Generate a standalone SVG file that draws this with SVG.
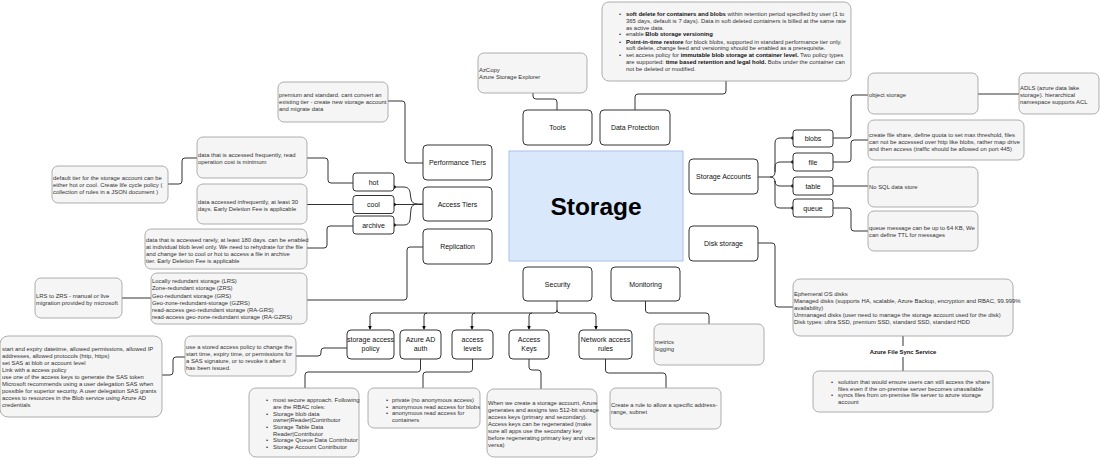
<svg xmlns="http://www.w3.org/2000/svg" width="1100" height="458" viewBox="0 0 1100 458">
<style>
.n{fill:#fff;stroke:#333;stroke-width:1}
.note{fill:#f5f5f5;stroke:#999;stroke-width:0.8}
.lbl{font-family:"Liberation Sans",Arial,sans-serif;font-size:7px;fill:#111;text-anchor:middle}
.t{font-family:"Liberation Sans",Arial,sans-serif;font-size:5.9px;fill:#333}
.b{font-weight:bold;fill:#111}
.c{fill:none;stroke:#333;stroke-width:1}
.dot{fill:#000}
</style>
<defs>
<marker id="ar" viewBox="0 0 6 6" refX="5" refY="3" markerWidth="4" markerHeight="4" orient="auto"><path d="M0,0 L6,3 L0,6 Z" fill="#000"/></marker>
</defs>
<rect width="1100" height="458" fill="#fff"/>

<g id="connectors">
<path class="c" d="M533,93 V96 Q533,99 536,99 H554 Q557,99 557,102 V110"/>
<path class="c" d="M726,81 V91 Q726,94 723,94 H638 Q635,94 635,97 V110"/>
<path class="c" d="M388,101 H402 Q405,101 405,104 V160 Q405,163 408,163 H423"/>
<path class="c" d="M168,184 H179 Q182,184 182,181 V161 Q182,158 185,158 H197"/>
<path class="c" d="M307,158 H325 Q328,158 328,161 V180 Q328,183 331,183 H353"/>
<path class="c" d="M307,204.5 H353"/>
<path class="c" d="M307,248 H324 Q327,248 327,245 V229 Q327,226 330,226 H353"/>
<path class="c" d="M394,187 H404 Q409,187 410,192 L411,199 Q412,204 417,204 H423"/>
<path class="c" d="M394,204.5 H423"/>
<path class="c" d="M394,225 H404 Q409,225 410,220 L411,209 Q412,204 417,204"/>
<circle class="dot" cx="394" cy="187" r="1.8"/>
<circle class="dot" cx="394" cy="204.5" r="1.8"/>
<circle class="dot" cx="394" cy="225" r="1.8"/>
<path class="c" d="M122,298 H151"/>
<path class="c" d="M307,300 H404 Q407,300 407,297 V250 Q407,247 410,247 H423"/>
<path class="c" d="M162,375 H170 Q173,375 173,372 V360 Q173,357 176,357 H185"/>
<path class="c" d="M296,356 H318 Q321,356 321,353 V351 Q321,348 324,348 H347"/>
<path class="c" d="M557,301 V310 Q557,313 554,313 H373 Q370,313 370,316 V329" marker-end="url(#ar)"/>
<path class="c" d="M427,313 Q424,313 424,316 V329" marker-end="url(#ar)"/>
<path class="c" d="M475,313 Q472,313 472,316 V329" marker-end="url(#ar)"/>
<path class="c" d="M532,313 Q529,313 529,316 V329" marker-end="url(#ar)"/>
<path class="c" d="M557,310 Q557,313 560,313 H593 Q596,313 596,316 V329" marker-end="url(#ar)"/>
<path class="c" d="M420.5,359 V369 Q420.5,372 417.5,372 H308 Q305,372 305,375 V388"/>
<path class="c" d="M472.5,359 V369 Q472.5,372 469.5,372 H426 Q423,372 423,375 V388"/>
<path class="c" d="M529,359 V367 Q529,370 532,370 H538 Q541,370 541,373 V389"/>
<path class="c" d="M605.5,359 V370 Q605.5,373 608.5,373 H663 Q666,373 666,376 V388"/>
<path class="c" d="M645.5,301 V310 Q645.5,313 648.5,313 H706 Q709,313 709,316 V324"/>
<path class="c" d="M758,177 H770 Q775,177 775,172 V143 Q775,138 780,138 H793"/>
<path class="c" d="M775,172 V167 Q775,162 780,162 H793"/>
<path class="c" d="M770,177 Q775,177 775,182 V181 Q775,186 780,186 H793"/>
<path class="c" d="M775,182 V203 Q775,208 780,208 H793"/>
<circle class="dot" cx="793" cy="138" r="1.8"/>
<circle class="dot" cx="793" cy="162" r="1.8"/>
<circle class="dot" cx="793" cy="186" r="1.8"/>
<circle class="dot" cx="793" cy="208" r="1.8"/>
<path class="c" d="M833,138 H848 Q851,138 851,135 V98 Q851,95 854,95 H868"/>
<path class="c" d="M978,94 H1019"/>
<path class="c" d="M833,162 H848 Q851,162 851,159 V143 Q851,140 854,140 H868"/>
<path class="c" d="M833,186 H868"/>
<path class="c" d="M833,208 H848 Q851,208 851,211 V228 Q851,231 854,231 H868"/>
<path class="c" d="M758,243 H772 Q775,243 775,246 V304 Q775,307 778,307 H793"/>
<path class="c" d="M903,336 V346 M903,357 V371"/>
</g>

<g id="storage">
<rect x="509" y="151" width="174" height="110" fill="#dae8fc" stroke="#a9c4eb" stroke-width="1"/>
<text x="596" y="215" font-family="Liberation Sans,Arial,sans-serif" font-size="24.5" font-weight="bold" text-anchor="middle" fill="#000">Storage</text>
</g>

<g id="tools"><rect class="n" x="523" y="110" width="69" height="35" rx="4"/><text class="lbl" x="557.5" y="130">Tools</text></g>
<g id="data-protection"><rect class="n" x="600" y="110" width="70" height="35" rx="4"/><text class="lbl" x="635" y="130">Data Protection</text></g>
<g id="performance-tiers"><rect class="n" x="423" y="145" width="69" height="35" rx="4"/><text class="lbl" x="457.5" y="165">Performance Tiers</text></g>
<g id="access-tiers"><rect class="n" x="423" y="187" width="69" height="34" rx="4"/><text class="lbl" x="457.5" y="206.5">Access Tiers</text></g>
<g id="replication"><rect class="n" x="423" y="229" width="69" height="35" rx="4"/><text class="lbl" x="457.5" y="249">Replication</text></g>
<g id="hot"><rect class="n" x="353" y="173" width="41" height="18" rx="3"/><text class="lbl" x="373.5" y="184.5">hot</text></g>
<g id="cool"><rect class="n" x="353" y="195.5" width="41" height="18" rx="3"/><text class="lbl" x="373.5" y="207">cool</text></g>
<g id="archive"><rect class="n" x="353" y="216" width="41" height="18" rx="3"/><text class="lbl" x="373.5" y="227.5">archive</text></g>
<g id="security"><rect class="n" x="523" y="267" width="69" height="34" rx="4"/><text class="lbl" x="557.5" y="286.5">Security</text></g>
<g id="monitoring"><rect class="n" x="611" y="267" width="69" height="34" rx="4"/><text class="lbl" x="645.5" y="286.5">Monitoring</text></g>
<g id="storage-accounts"><rect class="n" x="689" y="159" width="69" height="35" rx="4"/><text class="lbl" x="723.5" y="179">Storage Accounts</text></g>
<g id="disk-storage"><rect class="n" x="689" y="226" width="69" height="35" rx="4"/><text class="lbl" x="723.5" y="246">Disk storage</text></g>
<g id="blobs"><rect class="n" x="793" y="130" width="40" height="17" rx="3"/><text class="lbl" x="813" y="141">blobs</text></g>
<g id="file"><rect class="n" x="793" y="153" width="40" height="18" rx="3"/><text class="lbl" x="813" y="164.5">file</text></g>
<g id="table"><rect class="n" x="793" y="177" width="40" height="18" rx="3"/><text class="lbl" x="813" y="188.5">table</text></g>
<g id="queue"><rect class="n" x="793" y="199" width="40" height="18" rx="3"/><text class="lbl" x="813" y="210.5">queue</text></g>
<g id="storage-access-policy"><rect class="n" x="347" y="330" width="47" height="29" rx="4"/><text class="lbl" x="370.5" y="342">storage access</text><text class="lbl" x="370.5" y="351">policy</text></g>
<g id="azure-ad-auth"><rect class="n" x="400" y="330" width="41" height="29" rx="4"/><text class="lbl" x="420.5" y="342">Azure AD</text><text class="lbl" x="420.5" y="351">auth</text></g>
<g id="access-levels"><rect class="n" x="452" y="330" width="41" height="29" rx="4"/><text class="lbl" x="472.5" y="342">access</text><text class="lbl" x="472.5" y="351">levels</text></g>
<g id="access-keys"><rect class="n" x="509" y="330" width="40" height="29" rx="4"/><text class="lbl" x="529" y="342">Access</text><text class="lbl" x="529" y="351">Keys</text></g>
<g id="network-access-rules"><rect class="n" x="579" y="330" width="53" height="29" rx="4"/><text class="lbl" x="605.5" y="342">Network access</text><text class="lbl" x="605.5" y="351">rules</text></g>

<g id="note-tools"><rect class="note" x="478" y="53" width="109" height="40" rx="6"/>
<text class="t"><tspan x="479" y="72">AzCopy</tspan><tspan x="479" y="79">Azure Storage Explorer</tspan></text></g>

<g id="note-data-protection"><rect class="note" x="602" y="2" width="249" height="79" rx="7"/>
<text class="t"><tspan x="619" y="16">•</tspan><tspan x="619" y="36">•</tspan><tspan x="619" y="43.5">•</tspan><tspan x="619" y="57">•</tspan></text>
<text class="t">
<tspan x="626" y="16"><tspan class="b">soft delete for containers and blobs</tspan> within retention period specified by user (1 to</tspan>
<tspan x="626" y="23">365 days, default is 7 days). Data in soft deleted containers is billed at the same rate</tspan>
<tspan x="626" y="29.5">as active data.</tspan>
<tspan x="626" y="36">enable <tspan class="b">Blob storage versioning</tspan></tspan>
<tspan x="626" y="43.5"><tspan class="b">Point-in-time restore</tspan> for block blobs, supported in standard performance tier only.</tspan>
<tspan x="626" y="50">soft delete, change feed and versioning should be enabled as a prerequisite.</tspan>
<tspan x="626" y="57">set access policy for <tspan class="b">immutable blob storage at container level.</tspan> Two policy types</tspan>
<tspan x="626" y="64">are supported: <tspan class="b">time based retention and legal hold.</tspan> Bobs under the container can</tspan>
<tspan x="626" y="71">not be deleted or modified.</tspan>
</text></g>

<g id="note-performance"><rect class="note" x="278" y="82" width="110" height="40" rx="6"/>
<text class="t"><tspan x="279" y="97">premium and standard. cant convert an</tspan><tspan x="279" y="104">existing tier - create new storage account</tspan><tspan x="279" y="111">and migrate data</tspan></text></g>

<g id="note-default-tier"><rect class="note" x="52" y="166" width="116" height="37" rx="6"/>
<text class="t"><tspan x="53" y="180">default tier for the storage account can be</tspan><tspan x="53" y="187">either hot or cool. Create life cycle policy (</tspan><tspan x="53" y="194">collection of rules in a JSON document )</tspan></text></g>

<g id="note-hot"><rect class="note" x="197" y="137" width="110" height="41" rx="6"/>
<text class="t"><tspan x="198" y="157">data that is accessed frequently, read</tspan><tspan x="198" y="164">operation cost is minimum</tspan></text></g>

<g id="note-cool"><rect class="note" x="197" y="184" width="110" height="40" rx="6"/>
<text class="t"><tspan x="198" y="204">data accessed infrequently, at least 30</tspan><tspan x="198" y="211">days. Early Deletion Fee is applicable</tspan></text></g>

<g id="note-archive"><rect class="note" x="145" y="229" width="162" height="40" rx="6"/>
<text class="t"><tspan x="146" y="242">data that is accessed rarely, at least 180 days. can be enabled</tspan><tspan x="146" y="249">at individual blob level only. We need to rehydrate for the file</tspan><tspan x="146" y="256">and change tier to cool or hot to access a file in archive</tspan><tspan x="146" y="263">tier. Early Deletion Fee is applicable</tspan></text></g>

<g id="note-lrs-zrs"><rect class="note" x="35" y="278" width="87" height="40" rx="6"/>
<text class="t"><tspan x="36" y="298">LRS to ZRS - manual or live</tspan><tspan x="36" y="305">migration provided by microsoft</tspan></text></g>

<g id="note-redundancy"><rect class="note" x="151" y="273" width="156" height="51" rx="6"/>
<text class="t"><tspan x="152" y="283">Locally redundant storage (LRS)</tspan><tspan x="152" y="290">Zone-redundant storage (ZRS)</tspan><tspan x="152" y="297.5">Geo-redundant storage (GRS)</tspan><tspan x="152" y="305">Geo-zone-redundant-storage (GZRS)</tspan><tspan x="152" y="312">read-access geo-redundant storage (RA-GRS)</tspan><tspan x="152" y="319">read-access geo-zone-redundant storage (RA-GZRS)</tspan></text></g>

<g id="note-sas"><rect class="note" x="0" y="336" width="162" height="81" rx="8"/>
<text class="t"><tspan x="2" y="351">start and expiry datetime, allowed permissions, allowed IP</tspan><tspan x="2" y="358">addresses, allowed protocols (http, https)</tspan><tspan x="2" y="365">set SAS at blob or account level</tspan><tspan x="2" y="372">Link with a access policy</tspan><tspan x="2" y="379">use one of the access keys to generate the SAS token</tspan><tspan x="2" y="386">Microsoft recommends using a user delegation SAS when</tspan><tspan x="2" y="393">possible for superior security. A user delegation SAS grants</tspan><tspan x="2" y="400">access to resources in the Blob service using Azure AD</tspan><tspan x="2" y="407">credentials</tspan></text></g>

<g id="note-stored-policy"><rect class="note" x="185" y="336" width="111" height="40" rx="6"/>
<text class="t"><tspan x="186" y="349">use a stored access policy to change the</tspan><tspan x="186" y="356">start time, expiry time, or permissions for</tspan><tspan x="186" y="363">a SAS signature, or to revoke it after it</tspan><tspan x="186" y="370">has been issued.</tspan></text></g>

<g id="note-rbac"><rect class="note" x="249" y="388" width="110" height="69" rx="7"/>
<text class="t"><tspan x="266" y="402">•</tspan><tspan x="266" y="415.5">•</tspan><tspan x="266" y="429">•</tspan><tspan x="266" y="442">•</tspan><tspan x="266" y="449">•</tspan></text>
<text class="t"><tspan x="273" y="402">most secure approach. Following</tspan><tspan x="273" y="409">are the RBAC roles:</tspan><tspan x="273" y="415.5">Storage blob data</tspan><tspan x="273" y="422">owner|Reader|Contributor</tspan><tspan x="273" y="429">Storage Table Data</tspan><tspan x="273" y="435.5">Reader|Contributor</tspan><tspan x="273" y="442">Storage Queue Data Contributor</tspan><tspan x="273" y="449">Storage Account Contributor</tspan></text></g>

<g id="note-access-levels"><rect class="note" x="368" y="388" width="112" height="40" rx="6"/>
<text class="t"><tspan x="386" y="402">•</tspan><tspan x="386" y="408.5">•</tspan><tspan x="386" y="415">•</tspan></text>
<text class="t"><tspan x="392" y="402">private (no anonymous access)</tspan><tspan x="392" y="408.5">anonymous read access for blobs</tspan><tspan x="392" y="415">anonymous read access for</tspan><tspan x="392" y="421.5">containers</tspan></text></g>

<g id="note-access-keys"><rect class="note" x="487" y="389" width="110" height="68" rx="7"/>
<text class="t"><tspan x="488" y="405">When we create a storage account, Azure</tspan><tspan x="488" y="412">generates and assigns two 512-bit storage</tspan><tspan x="488" y="419">access keys (primary and secondary).</tspan><tspan x="488" y="426">Access keys can be regenerated (make</tspan><tspan x="488" y="433">sure all apps use the secondary key</tspan><tspan x="488" y="440">before regenerating primary key and vice</tspan><tspan x="488" y="447">versa)</tspan></text></g>

<g id="note-network"><rect class="note" x="610" y="388" width="111" height="41" rx="6"/>
<text class="t"><tspan x="611" y="407">Create a rule to allow a specific address-</tspan><tspan x="611" y="414">range, subnet</tspan></text></g>

<g id="note-monitoring"><rect class="note" x="654" y="324" width="110" height="41" rx="6"/>
<text class="t"><tspan x="655" y="344">metrics</tspan><tspan x="655" y="351">logging</tspan></text></g>

<g id="note-object"><rect class="note" x="868" y="73" width="110" height="41" rx="6"/>
<text class="t"><tspan x="869" y="97">object storage</tspan></text></g>

<g id="note-adls"><rect class="note" x="1019" y="73" width="80" height="41" rx="6"/>
<text class="t"><tspan x="1020" y="90">ADLS (azure data lake</tspan><tspan x="1020" y="97">storage). hierarchical</tspan><tspan x="1020" y="104">namespace supports ACL</tspan></text></g>

<g id="note-file"><rect class="note" x="868" y="120" width="156" height="40" rx="6"/>
<text class="t"><tspan x="869" y="137">create file share, define quota to set max threshold, files</tspan><tspan x="869" y="144">can not be accessed over http like blobs, rather map drive</tspan><tspan x="869" y="150.5">and then access (traffic should be allowed on port 445)</tspan></text></g>

<g id="note-table"><rect class="note" x="868" y="167" width="110" height="40" rx="6"/>
<text class="t"><tspan x="869" y="189">No SQL data store</tspan></text></g>

<g id="note-queue"><rect class="note" x="868" y="211" width="110" height="40" rx="6"/>
<text class="t"><tspan x="869" y="230">queue message can be up to 64 KB, We</tspan><tspan x="869" y="237">can define TTL for messages</tspan></text></g>

<g id="note-disk"><rect class="note" x="793" y="279" width="220" height="57" rx="7"/>
<text class="t"><tspan x="794" y="296">Ephemeral OS disks</tspan><tspan x="794" y="303">Managed disks (supports HA, scalable, Azure Backup, encryption and RBAC, 99.999%</tspan><tspan x="794" y="310">availability)</tspan><tspan x="794" y="317">Unmanaged disks (user need to manage the storage account used for the disk)</tspan><tspan x="794" y="324">Disk types: ultra SSD, premium SSD, standard SSD, standard HDD</tspan></text></g>

<g id="label-file-sync"><text class="t b" x="903" y="353.5" text-anchor="middle">Azure File Sync Service</text></g>

<g id="note-file-sync"><rect class="note" x="813" y="371" width="180" height="41" rx="6"/>
<text class="t"><tspan x="831" y="384">•</tspan><tspan x="831" y="397">•</tspan></text>
<text class="t"><tspan x="838" y="384">solution that would ensure users can still access the share</tspan><tspan x="838" y="390.5">files even if the on-premise server becomes unavailable</tspan><tspan x="838" y="397">syncs files from on-premise file server to azure storage</tspan><tspan x="838" y="404">account</tspan></text></g>
</svg>
